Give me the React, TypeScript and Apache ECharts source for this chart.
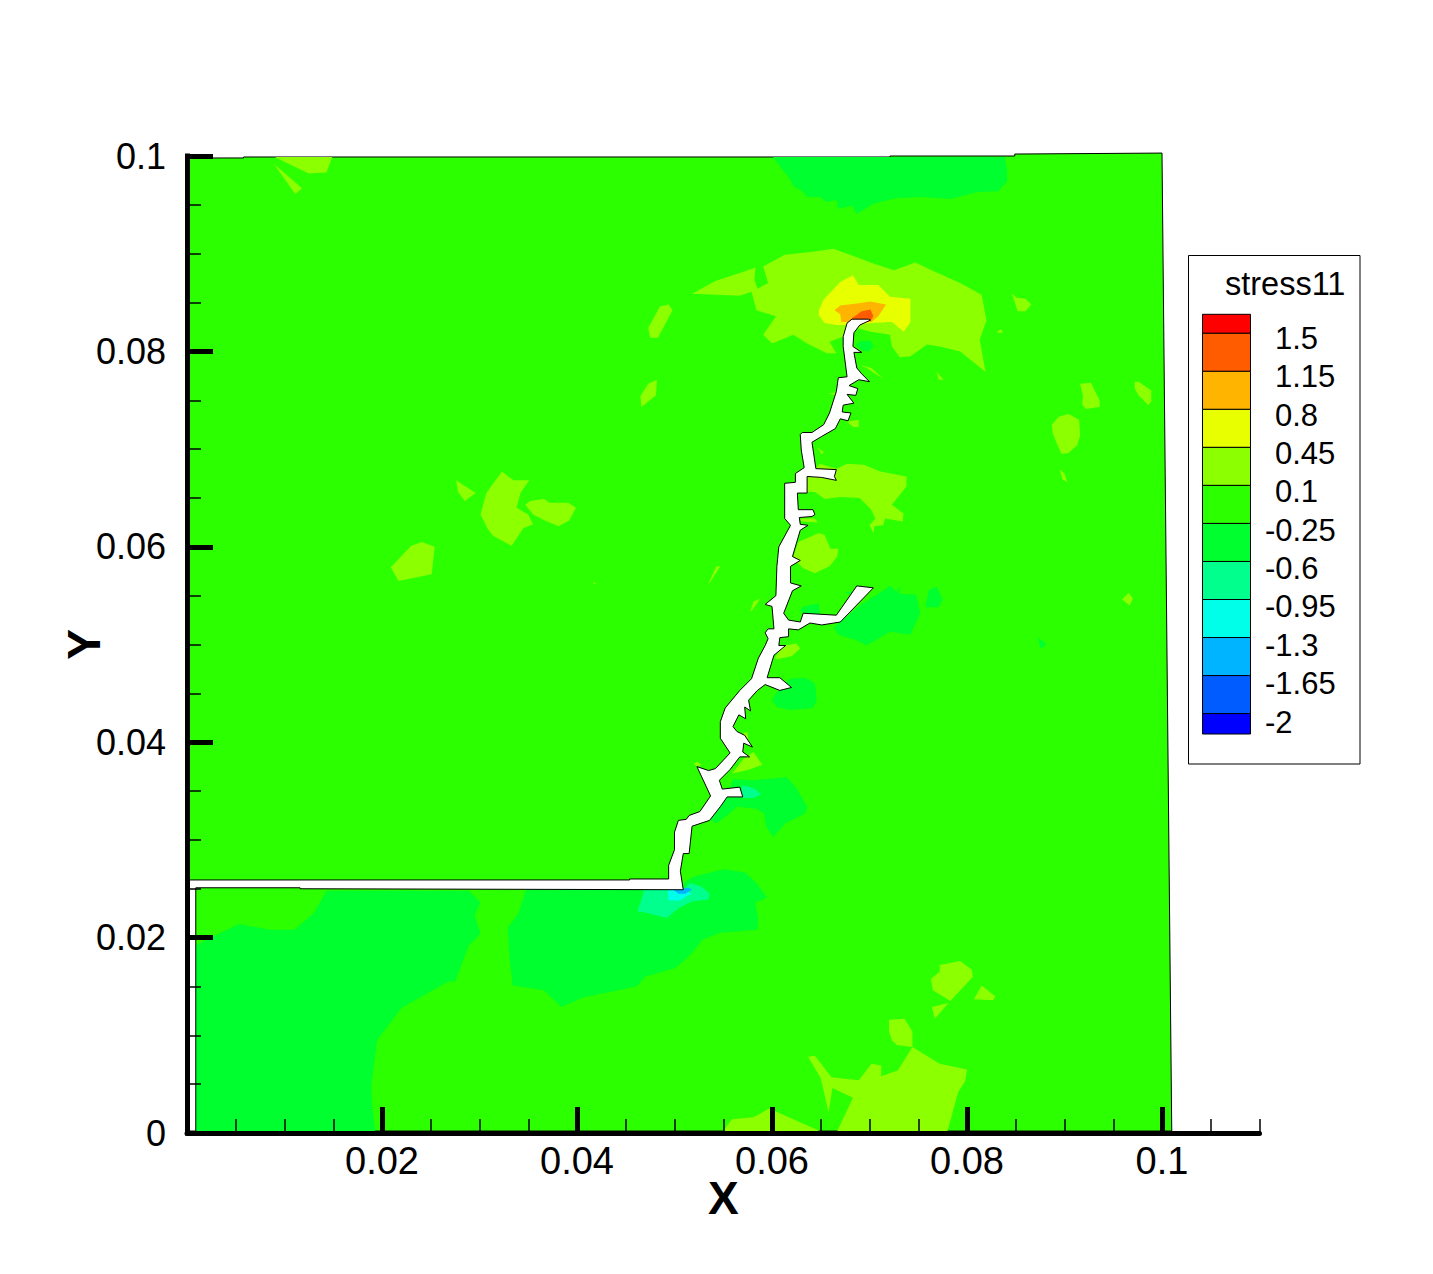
import React, { useEffect, useRef } from "react";
import * as echarts from "echarts";

// Axis ticks and labels (metres)
const xMajor = [0.02, 0.04, 0.06, 0.08, 0.1];
const yMajor = [0, 0.02, 0.04, 0.06, 0.08, 0.1];

// Contour legend
const legendTitle = "stress11";
const levelLabels = ["1.5", "1.15", "0.8", "0.45", "0.1", "-0.25", "-0.6", "-0.95", "-1.3", "-1.65", "-2"];
const levelColors = ["#ff0000", "#ff5c00", "#ffb400", "#e8ff00", "#8cff00", "#2cff00", "#00ff2e", "#00ff8c", "#00ffe8", "#00b4ff", "#005cff", "#0000ff"];

// Contour outlines, flat x,y lists in millimetres
const domainOutline = [
  0.2, 99.8, 5.8, 99.8, 5.8, 99.9, 72.1, 99.9, 72.1, 100, 84.9, 100, 84.9, 100.2, 100, 100.3, 101, 0.2, 0.2, 0.2,
];

const bandNeg025 = [
  [14.3, 24.8, 13.0, 22.5, 11.0, 20.8, 8.5, 20.8, 5.3, 21.4, 2.7, 20.1, 0.9, 19.2, 0.9, 0.2, 19.3, 0.2, 19.0, 2.7, 18.9, 4.8, 19.5, 9.5, 22.0, 12.8, 26.8, 15.5, 27.5, 15.5, 28.9, 19.2, 30.1, 20.4, 29.5, 22.3, 30.1, 23.6, 28.9, 24.8],
  [34.8, 25.0, 34.0, 22.5, 32.9, 21.0, 33.1, 17.7, 33.4, 15.1, 36.6, 14.6, 38.4, 12.9, 40.7, 13.9, 46.1, 15.0, 47.0, 16.0, 50.1, 16.9, 51.6, 18.2, 52.9, 19.8, 54.7, 20.5, 58.5, 20.8, 58.6, 21.8, 58.3, 23.6, 59.5, 24.1, 58.3, 25.7, 57.2, 26.7, 55.0, 27.0, 51.9, 26.2, 50.9, 25.6, 50.9, 25.0],
  [60.1, 99.9, 60.6, 99.2, 61.8, 97.7, 62.2, 96.9, 63.0, 96.5, 63.6, 95.8, 64.9, 95.8, 65.6, 95.3, 66.6, 95.5, 66.8, 94.6, 68.2, 94.9, 68.7, 94.1, 70.4, 95.1, 72.8, 95.7, 75.5, 95.8, 78.3, 95.6, 81.0, 96.3, 83.2, 96.4, 84.1, 97.4, 84.1, 98.6, 83.9, 99.9],
  [68.6, 80.7, 69.2, 81.1, 70.1, 81.1, 70.4, 80.5, 69.9, 80.0, 69.2, 80.1],
  [67.0, 52.3, 69.0, 54.0, 72.1, 56.0, 72.8, 55.4, 73.3, 56.1, 73.0, 55.2, 74.8, 55.1, 75.2, 53.2, 74.2, 51.0, 72.1, 51.3, 69.7, 49.9, 68.7, 50.4, 66.8, 51.0, 66.3, 51.8],
  [75.7, 53.8, 76.1, 55.6, 76.9, 55.9, 77.5, 54.6, 77.1, 53.8],
  [62.9, 53.5, 63.2, 53.9, 64.8, 54.2, 64.9, 53.0, 63.2, 53.2],
  [67.5, 55.4, 68.2, 55.4, 67.9, 55.1],
  [60.0, 44.3, 60.7, 45.5, 61.9, 46.5, 63.4, 46.6, 64.4, 46.0, 64.6, 44.3, 64.2, 43.5, 61.9, 43.3, 60.5, 43.6],
  [53.7, 32.0, 55.3, 34.3, 56.0, 36.2, 58.1, 36.1, 61.5, 36.4, 62.5, 35.3, 63.6, 33.4, 63.4, 32.7, 61.4, 31.7, 60.1, 30.3, 59.4, 31.4, 59.2, 32.7, 58.4, 33.2, 56.4, 33.4, 55.4, 32.5, 54.3, 31.7],
  [87.3, 50.7, 88.1, 50.1, 87.9, 49.7, 87.5, 49.7],
];

const bandNeg06 = [
  [56.9, 35.6, 58.1, 35.3, 58.9, 34.7, 58.1, 34.3, 57.0, 34.3],
  [46.2, 22.7, 46.8, 24.5, 46.8, 24.9, 50.9, 24.9, 51.6, 25.6, 52.8, 25.2, 53.6, 24.5, 53.5, 23.9, 51.8, 23.7, 50.4, 23.0, 49.2, 22.0, 47.3, 22.5],
];
const bandNeg095 = [[49.3, 24.9, 50.9, 24.9, 51.8, 24.5, 51.2, 24.2, 50.6, 23.8, 49.4, 23.8]];
const bandNeg13 = [[49.9, 24.9, 51.4, 25.1, 51.8, 24.9, 51.1, 24.5, 50.4, 24.5]];

const band045 = [
  [59.1, 88.7, 61.3, 89.9, 64.2, 90.2, 66.3, 90.5, 68.0, 89.9, 70.4, 89.0, 72.5, 88.3, 74.7, 89.1, 76.6, 88.2, 79.3, 87.0, 81.5, 85.8, 82.0, 83.2, 81.3, 81.2, 81.9, 77.9, 79.3, 80.0, 77.2, 80.5, 75.9, 80.7, 74.2, 79.5, 73.1, 79.4, 72.3, 80.5, 72.1, 81.7, 70.1, 82.0, 68.7, 82.4, 67.3, 81.5, 65.9, 81.0, 66.6, 79.8, 65.6, 79.8, 63.6, 80.8, 62.2, 81.7, 60.0, 80.8, 59.1, 81.7, 60.4, 83.6, 58.4, 84.2, 57.9, 86.1, 56.7, 85.7, 54.3, 85.8, 51.8, 85.9, 54.2, 87.2, 56.6, 88.0, 58.3, 88.6, 58.2, 87.3, 58.5, 86.4, 59.6, 87.0],
  [47.3, 82.4, 48.5, 84.6, 49.4, 84.8, 49.8, 84.2, 48.3, 81.4, 47.5, 81.4],
  [46.5, 75.4, 47.3, 76.7, 48.2, 77.1, 48.1, 75.5, 46.6, 74.3],
  [84.6, 85.9, 85.1, 85.5, 86.0, 85.4, 86.6, 84.8, 86.0, 84.1, 85.2, 84.1],
  [83.0, 81.9, 83.5, 82.3, 83.7, 81.9],
  [76.9, 77.9, 77.6, 77.1, 77.1, 77.1],
  [69.0, 78.6, 70.2, 78.3, 71.4, 77.2, 69.7, 78.3],
  [65.8, 75.7, 66.5, 75.8, 66.6, 75.5],
  [67.7, 72.8, 68.9, 73.0, 68.9, 72.2, 68.3, 72.3],
  [64.6, 70.2, 65.3, 69.7, 65.1, 69.5],
  [64.9, 68.5, 66.6, 68.0, 67.7, 68.5, 69.4, 68.4, 71.1, 67.7, 73.8, 67.2, 73.8, 66.2, 72.3, 64.3, 73.5, 63.4, 73.4, 62.6, 71.6, 62.9, 71.4, 62.2, 70.5, 62.1, 70.4, 61.4, 70.0, 62.2, 70.6, 62.9, 70.1, 63.9, 69.0, 65.0, 67.0, 65.1, 65.4, 64.9, 64.4, 65.6, 63.6, 65.6, 63.6, 67.2, 64.6, 68.2],
  [62.9, 62.9, 64.4, 62.9, 64.7, 62.5, 63.0, 62.6],
  [62.2, 59.0, 62.7, 60.5, 64.8, 61.4, 65.4, 61.2, 66.0, 59.8, 66.8, 59.8, 66.7, 59.0, 65.9, 58.0, 64.4, 57.3, 63.2, 57.8, 62.5, 58.5],
  [54.3, 58.0, 54.7, 58.0, 53.6, 56.3, 53.5, 56.3],
  [57.8, 53.5, 58.1, 54.4, 58.8, 54.7, 57.9, 53.4],
  [60.3, 48.6, 60.7, 49.3, 61.3, 49.9, 62.5, 50.1, 62.9, 49.6, 62.0, 48.8, 60.5, 48.5],
  [64.9, 69.9, 65.3, 69.6, 65.1, 69.5],
  [55.9, 36.8, 57.1, 38.3, 58.1, 39.0, 59.0, 37.7, 57.7, 37.2],
  [57.1, 41.0, 57.5, 41.0, 57.6, 40.0, 57.1, 40.6],
  [52.0, 37.8, 52.3, 38.0, 52.8, 37.7, 52.3, 37.5],
  [9.0, 99.9, 14.9, 99.9, 14.3, 98.3, 12.5, 98.2, 10.4, 99.2],
  [8.9, 99.2, 11.8, 96.7, 11.1, 96.1],
  [27.6, 66.8, 29.6, 65.5, 28.5, 64.7, 27.8, 65.6],
  [32.3, 67.7, 33.5, 66.8, 35.1, 66.8, 34.2, 65.5, 33.8, 64.0, 35.0, 63.3, 35.5, 62.3, 34.5, 61.9, 33.3, 60.1, 31.4, 61.1, 30.8, 61.9, 30.1, 63.3, 30.7, 65.5],
  [34.7, 64.3, 35.2, 64.7, 36.6, 64.9, 37.2, 64.5, 39.1, 64.5, 39.9, 64.0, 39.2, 62.7, 38.1, 62.1, 36.7, 62.7, 35.5, 63.3],
  [20.9, 57.9, 23.0, 60.1, 24.1, 60.5, 25.4, 60.0, 25.1, 57.2, 21.7, 56.5],
  [41.7, 56.4, 42.0, 56.2, 41.7, 56.2],
  [91.6, 76.7, 92.7, 76.8, 93.6, 75.0, 93.6, 74.3, 92.2, 74.1, 91.8, 74.6, 91.9, 75.4],
  [97.2, 76.9, 97.6, 76.9, 98.9, 76.0, 98.9, 74.9, 98.6, 74.5, 97.6, 75.5, 97.2, 76.2],
  [88.7, 72.5, 89.4, 73.3, 90.4, 73.6, 91.5, 73.0, 91.6, 71.4, 91.3, 70.4, 90.4, 69.6, 89.7, 69.5, 89.2, 70.6, 88.8, 71.6],
  [89.5, 67.9, 90.0, 67.5, 90.3, 66.6, 89.8, 66.9],
  [95.9, 54.6, 96.6, 55.3, 97.0, 54.7, 96.7, 54.0],
  [63.7, 7.8, 64.4, 7.9, 66.1, 5.7, 68.9, 5.4, 70.2, 7.1, 71.2, 6.9, 71.2, 5.8, 72.9, 6.4, 74.4, 8.8, 77.2, 7.1, 80.0, 6.5, 79.8, 5.3, 79.1, 4.2, 78.0, 0.2, 66.7, 0.2, 68.3, 3.6, 66.2, 4.6, 65.8, 2.1, 65.0, 5.6],
  [72.0, 11.6, 73.6, 11.7, 74.4, 10.4, 74.4, 8.8, 72.8, 9.0, 72.3, 9.5, 72.0, 10.4],
  [76.3, 15.8, 77.2, 16.5, 77.2, 17.2, 79.3, 17.6, 80.5, 16.7, 80.6, 16.0, 78.3, 13.5, 76.5, 14.6],
  [76.4, 12.9, 78.1, 13.3, 76.7, 11.7],
  [81.5, 15.1, 82.9, 14.0, 82.7, 13.6, 80.7, 13.7],
  [55.0, 0.2, 55.9, 1.4, 58.1, 1.6, 59.7, 2.5, 64.9, 0.2],
];

const band08 = [
  [64.8, 84.2, 65.3, 85.3, 67.0, 87.1, 68.3, 87.8, 68.9, 86.8, 70.9, 86.8, 72.1, 85.6, 74.2, 85.4, 74.2, 83.0, 73.5, 82.0, 72.3, 83.0, 70.1, 82.9, 68.7, 82.7, 66.6, 82.7, 65.4, 82.9, 64.8, 83.7],
];
const band115 = [
  [66.4, 84.2, 67.0, 84.7, 68.7, 84.9, 70.1, 85.1, 71.7, 84.8, 70.9, 83.6, 70.2, 83.0, 68.3, 83.0, 67.1, 83.0, 67.0, 83.8],
];
const band15 = [[68.2, 83.4, 69.2, 84.1, 70.1, 84.3, 70.4, 83.6, 70.1, 83.1, 68.2, 83.2]];

const crackOutline = [
  69.9, 83.3, 70.1, 83.2, 69.0, 82.7, 68.4, 81.9, 68.3, 80.5, 69.2, 79.9, 68.4, 79.9, 68.7, 78.3, 69.2, 77.7, 70.0, 76.9, 68.9, 77.1, 67.9, 76.5, 68.8, 76.2, 68.6, 75.5, 67.7, 75.6, 68.4, 74.7, 67.3, 74.5, 67.2, 73.8, 68.1, 73.7, 67.8, 72.9, 67.0, 73.1, 66.5, 72.1, 65.1, 71.3, 64.1, 70.7,
  64.5, 68.0, 66.6, 67.9, 66.4, 67.2, 66.6, 66.8, 65.1, 67.1, 63.6, 67.2, 63.6, 65.5, 62.6, 65.5, 62.7, 63.8, 64.2, 63.8, 64.4, 63.3, 64.1, 63.1, 62.8, 63.0, 62.9, 62.3, 63.7, 62.2, 62.9, 61.7, 62.1, 59.0, 62.9, 58.6, 61.9, 58.0, 61.9, 56.3, 63.0, 56.0, 62.1, 55.5, 61.2, 53.2, 61.7, 52.5, 62.9, 52.3, 63.2, 53.2, 66.6, 53.0, 68.7, 56.0, 70.4, 55.8, 67.0, 52.3, 65.1, 52.0, 63.9, 52.2, 62.7, 51.5, 61.7, 51.6, 61.7, 50.8, 60.8, 50.7, 60.7, 49.9, 61.4, 49.9, 60.2, 48.9, 59.5, 46.6, 60.8, 46.6, 62.0, 45.6, 60.8, 45.3, 59.3, 45.9,
  58.5, 45.3, 57.6, 44.3, 57.8, 43.2, 57.2, 43.6, 57.3, 42.4, 56.6, 42.8, 56.0, 41.6, 56.4, 41.1, 57.2, 40.7, 58.0, 39.5, 57.1, 39.9, 57.0, 39.0, 57.7, 38.5, 56.7, 38.5, 55.7, 37.2, 54.6, 36.1, 54.9, 35.2, 56.7, 35.4, 57.0, 34.4, 55.4, 34.4, 54.7, 33.4, 53.6, 32.0, 51.8, 31.4, 51.5, 28.6, 50.9, 28.6, 50.6, 26.8, 50.9, 24.9,
  11.6, 25.0, 11.6, 25.1, 0.9, 25.1, 0.9, 0.2, 0.2, 0.2, 0.2, 25.9, 45.4, 25.9, 45.4, 26.0, 49.4, 26.0,
  49.4, 27.4, 50.0, 29.0, 50.0, 30.8, 50.4, 32.0, 51.2, 32.1, 51.5, 32.5, 52.6, 32.9, 53.7, 34.5, 52.3, 37.5, 53.5, 37.1, 54.2, 37.3, 55.7, 38.9, 54.7, 40.4, 54.7, 42.1, 55.2, 43.5, 56.7, 45.3, 57.9, 46.5, 58.6, 48.6, 59.3, 49.9, 59.6, 50.6, 59.3, 51.2, 59.6, 51.6, 60.2, 51.6, 60.0, 53.9, 59.3, 54.1, 60.4, 55.0, 60.5, 58.0, 60.7, 60.0, 61.9, 62.2, 61.3, 62.9, 61.3, 66.5, 62.4, 66.6, 62.4, 67.5, 63.3, 68.1, 63.0, 69.9,
  62.9, 71.5, 63.1, 71.7, 64.1, 71.7, 65.3, 72.5, 65.9, 73.7, 66.6, 75.9, 66.8, 77.3, 67.7, 77.4, 67.3, 80.5, 67.3, 81.5, 67.7, 82.9, 68.2, 83.3,
];

const FONT = '"Liberation Sans", Arial, Helvetica, sans-serif';

type Layer = { polys: number[][]; color: string; stroke?: string };
const layers: Layer[] = [
  { polys: [domainOutline], color: levelColors[5], stroke: "#000" },
  { polys: bandNeg025, color: levelColors[6] },
  { polys: bandNeg06, color: levelColors[7] },
  { polys: bandNeg095, color: levelColors[8] },
  { polys: bandNeg13, color: levelColors[9] },
  { polys: band045, color: levelColors[4] },
  { polys: band08, color: levelColors[3] },
  { polys: band115, color: levelColors[2] },
  { polys: band15, color: levelColors[1] },
  { polys: [crackOutline], color: "#ffffff", stroke: "#000" },
];

function contourSeries(layer: Layer, index: number) {
  return {
    type: "custom",
    coordinateSystem: "cartesian2d",
    xAxisIndex: 0,
    yAxisIndex: 0,
    z: 1 + index * 0.01,
    silent: true,
    animation: false,
    clip: false,
    data: layer.polys.map((flat) => [flat[0] / 1000, flat[1] / 1000]),
    renderItem: (params: any, api: any) => {
      const flat = layer.polys[params.dataIndex];
      const points: number[][] = [];
      for (let i = 0; i < flat.length; i += 2) {
        points.push(api.coord([flat[i] / 1000, flat[i + 1] / 1000]));
      }
      return {
        type: "polygon",
        shape: { points },
        style: {
          fill: layer.color,
          stroke: layer.stroke || "none",
          lineWidth: layer.stroke ? 1 : 0,
          lineJoin: "miter",
        },
      };
    },
  };
}

function legendGraphics() {
  const left = 1202.5;
  const width = 48;
  const firstEdge = 333.3;
  const step = 38.03;
  const els: any[] = [
    { type: "rect", shape: { x: 1188.5, y: 255.5, width: 171.5, height: 508.5 }, style: { fill: "#fff", stroke: "#000", lineWidth: 1 } },
    { type: "text", x: 1225, y: 284, style: { text: legendTitle, font: `32.5px ${FONT}`, fill: "#000", textAlign: "left", textVerticalAlign: "middle" } },
  ];
  levelColors.forEach((color, i) => {
    const top = i === 0 ? 314.3 : firstEdge + (i - 1) * step;
    const bottom = i === 0 ? firstEdge : i === levelColors.length - 1 ? 734 : firstEdge + i * step;
    els.push({ type: "rect", shape: { x: left, y: top, width, height: bottom - top }, style: { fill: color, stroke: "#000", lineWidth: 1 } });
  });
  levelLabels.forEach((label, i) => {
    els.push({
      type: "text",
      x: label.startsWith("-") ? 1265 : 1275,
      y: 338.5 + i * 38.35,
      style: { text: label, font: `31px ${FONT}`, fill: "#000", textAlign: "left", textVerticalAlign: "middle" },
    });
  });
  return els;
}

const baseAxis = { type: "value" as const, splitLine: { show: false }, z: 5 };

export default function App() {
  const ref = useRef<HTMLDivElement>(null);
  useEffect(() => {
    const chart = echarts.init(ref.current!, undefined, { renderer: "svg" });
    chart.setOption({
      animation: false,
      backgroundColor: "#fff",
      grid: { left: 187, top: 156, width: 1072.5, height: 977, containLabel: false },
      xAxis: [
        {
          ...baseAxis,
          position: "bottom",
          min: 0,
          max: 0.11,
          interval: 0.02,
          name: "X",
          nameLocation: "middle",
          nameGap: 42,
          nameMoveOverlap: false,
          nameTextStyle: { fontFamily: FONT, fontWeight: "bold", fontSize: 46, color: "#000" },
          axisLine: { show: true, onZero: false, lineStyle: { color: "#000", width: 5 } },
          axisTick: { show: true, inside: true, length: 26, customValues: xMajor, lineStyle: { color: "#000", width: 5 } },
          axisLabel: { show: true, customValues: xMajor, margin: 9, fontFamily: FONT, fontSize: 38, color: "#000", formatter: (v: number) => String(v) },
        },
        {
          ...baseAxis,
          position: "bottom",
          min: 0,
          max: 0.11,
          interval: 0.005,
          axisLine: { show: false, onZero: false },
          axisTick: { show: true, inside: true, length: 14, lineStyle: { color: "#000", width: 1.5 } },
          axisLabel: { show: false },
        },
      ],
      yAxis: [
        {
          ...baseAxis,
          position: "left",
          min: 0,
          max: 0.1,
          interval: 0.02,
          name: "Y",
          nameLocation: "middle",
          nameGap: 80,
          nameMoveOverlap: false,
          nameTextStyle: { fontFamily: FONT, fontWeight: "bold", fontSize: 46, color: "#000" },
          axisLine: { show: true, onZero: false, lineStyle: { color: "#000", width: 5, cap: "square" } },
          axisTick: { show: true, inside: true, length: 26, customValues: yMajor, lineStyle: { color: "#000", width: 5 } },
          axisLabel: { show: true, customValues: yMajor, margin: 21, fontFamily: FONT, fontSize: 36, color: "#000", padding: [5, 0, 0, 0], formatter: (v: number) => String(v) },
        },
        {
          ...baseAxis,
          position: "left",
          min: 0,
          max: 0.1,
          interval: 0.005,
          axisLine: { show: false, onZero: false },
          axisTick: { show: true, inside: true, length: 14, lineStyle: { color: "#000", width: 1.5 } },
          axisLabel: { show: false },
        },
      ],
      series: layers.map(contourSeries),
      graphic: { elements: legendGraphics() },
    } as any);
    return () => chart.dispose();
  }, []);
  return <div ref={ref} style={{ position: "absolute", left: 0, top: 0, width: 1433, height: 1274 }} />;
}
